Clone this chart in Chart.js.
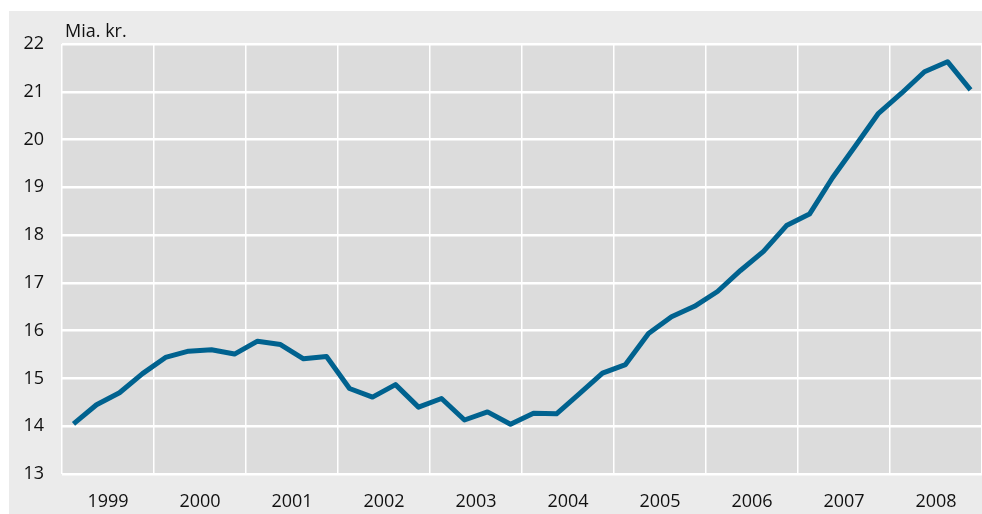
<!DOCTYPE html>
<html>
<head>
<meta charset="utf-8">
<script src="https://cdn.jsdelivr.net/npm/chart.js@4"></script>
<style>
  html, body { margin: 0; padding: 0; background: #fff; }
  #wrap { width: 982px; height: 514px; }
</style>
</head>
<body>
<div id="wrap"><canvas id="chart"></canvas></div>
<script>
// quarterly values, 1999 Q1 .. 2008 Q4 (bn kr.)
const years = ["1999", "2000", "2001", "2002", "2003", "2004", "2005", "2006", "2007", "2008"];
const values = [
  14.05, 14.45, 14.70, 15.10,
  15.44, 15.57, 15.60, 15.51,
  15.78, 15.71, 15.41, 15.46,
  14.79, 14.61, 14.87, 14.40,
  14.58, 14.13, 14.30, 14.04,
  14.27, 14.26, 14.68, 15.11,
  15.29, 15.94, 16.29, 16.51,
  16.82, 17.26, 17.66, 18.20,
  18.44, 19.20, 19.87, 20.55,
  20.97, 21.42, 21.63, 21.04
];
const yTicks = [13, 14, 15, 16, 17, 18, 19, 20, 21, 22];
const unitLabel = "Mia. kr.";

const FONT = "'Open Sans', sans-serif";
const TEXT = "#111111";

const points = values.map((v, i) => ({ x: i + 0.5, y: v }));

const backdrop = {
  id: "backdrop",
  beforeDraw(chart) {
    const ctx = chart.ctx;
    const a = chart.chartArea;
    ctx.save();
    ctx.fillStyle = "#ffffff";
    ctx.fillRect(0, 0, chart.width, chart.height);
    ctx.fillStyle = "#ebebeb";
    ctx.fillRect(9, 11, chart.width - 9, chart.height - 11);
    ctx.fillStyle = "#dcdcdc";
    ctx.fillRect(a.left, a.top, a.right - a.left, a.bottom - a.top);
    ctx.restore();
  },
  afterDraw(chart) {
    const ctx = chart.ctx;
    ctx.save();
    ctx.fillStyle = TEXT;
    ctx.font = "18px " + FONT;
    ctx.textBaseline = "alphabetic";
    ctx.fillText(unitLabel, 65, 37);
    ctx.restore();
  }
};

new Chart(document.getElementById("chart"), {
  type: "line",
  data: {
    datasets: [{
      data: points,
      borderColor: "#00628f",
      borderWidth: 5,
      pointRadius: 0,
      tension: 0,
      borderJoinStyle: "round",
      xAxisID: "x"
    }]
  },
  options: {
    responsive: true,
    maintainAspectRatio: false,
    animation: false,
    layout: { padding: { left: 9, top: 44, right: 0, bottom: 0 } },
    plugins: { legend: { display: false }, tooltip: { enabled: false } },
    scales: {
      x: {
        type: "linear",
        min: 0,
        max: years.length * 4,
        border: { display: false },
        grid: { color: "#ffffff", lineWidth: 1.5, drawTicks: false },
        ticks: { display: false },
        afterBuildTicks(scale) {
          scale.ticks = years.map((y, i) => ({ value: i * 4 })).concat([{ value: years.length * 4 }]);
        },
        afterFit(scale) { scale.height = 0; }
      },
      years: {
        type: "linear",
        position: "bottom",
        min: 0,
        max: years.length * 4,
        border: { display: false },
        grid: { display: false, drawTicks: false },
        ticks: {
          color: TEXT,
          font: { family: FONT, size: 18 },
          padding: 17,
          maxRotation: 0,
          autoSkip: false,
          callback: (v) => years[(v - 2) / 4]
        },
        afterBuildTicks(scale) {
          scale.ticks = years.map((y, i) => ({ value: i * 4 + 2 }));
        },
        afterFit(scale) { scale.height = 40; }
      },
      y: {
        min: 13,
        max: 22,
        border: { display: false },
        grid: { color: "#ffffff", lineWidth: 2.5, drawTicks: false },
        ticks: {
          color: TEXT,
          font: { family: FONT, size: 18 },
          padding: 18,
          autoSkip: false,
          callback: (v) => v
        },
        afterBuildTicks(scale) {
          scale.ticks = yTicks.map(v => ({ value: v }));
        },
        afterFit(scale) { scale.width = 53; }
      }
    }
  },
  plugins: [backdrop]
});
</script>
</body>
</html>
